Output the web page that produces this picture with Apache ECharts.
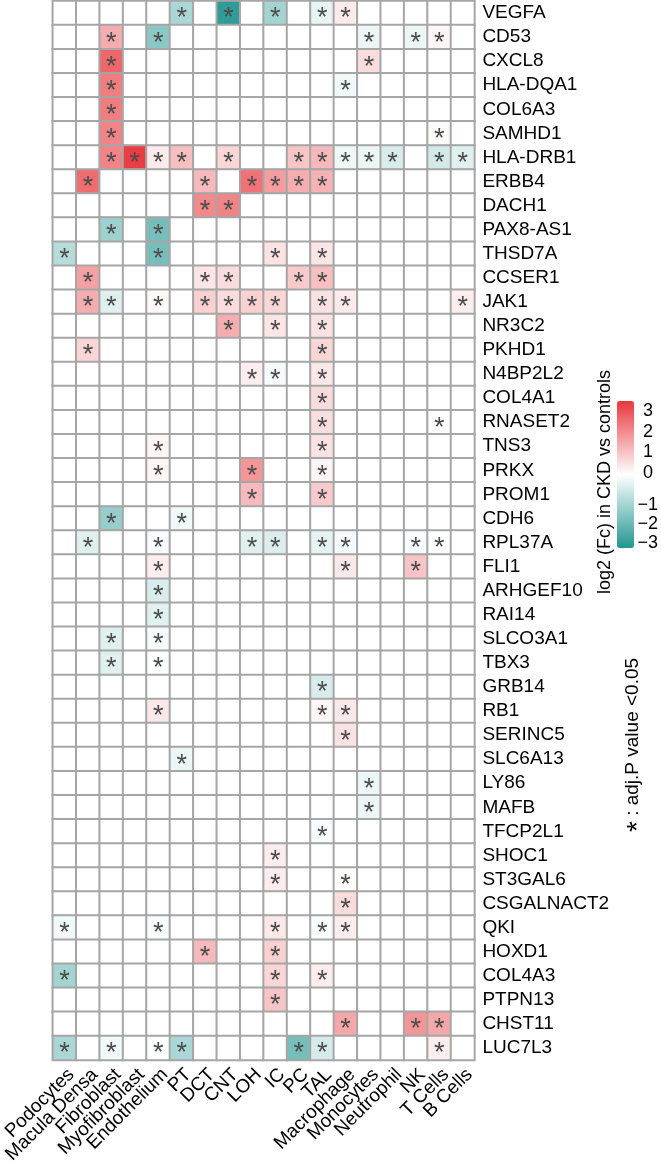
<!DOCTYPE html>
<html>
<head>
<meta charset="utf-8">
<script src="https://cdn.jsdelivr.net/npm/echarts@6/dist/echarts.min.js"></script>
<style>
  html, body { margin: 0; padding: 0; background: #fff; }
  #chart { width: 661px; height: 1170px; }
</style>
</head>
<body>
<div id="chart"></div>
<script>
// ---- data ----
const cellTypes = ['Podocytes', 'Macula Densa', 'Fibroblast', 'Myofibroblast', 'Endothelium', 'PT', 'DCT', 'CNT', 'LOH', 'IC', 'PC', 'TAL', 'Macrophage', 'Monocytes', 'Neutrophil', 'NK', 'T Cells', 'B Cells'];
const genes = ['VEGFA', 'CD53', 'CXCL8', 'HLA-DQA1', 'COL6A3', 'SAMHD1', 'HLA-DRB1', 'ERBB4', 'DACH1', 'PAX8-AS1', 'THSD7A', 'CCSER1', 'JAK1', 'NR3C2', 'PKHD1', 'N4BP2L2', 'COL4A1', 'RNASET2', 'TNS3', 'PRKX', 'PROM1', 'CDH6', 'RPL37A', 'FLI1', 'ARHGEF10', 'RAI14', 'SLCO3A1', 'TBX3', 'GRB14', 'RB1', 'SERINC5', 'SLC6A13', 'LY86', 'MAFB', 'TFCP2L1', 'SHOC1', 'ST3GAL6', 'CSGALNACT2', 'QKI', 'HOXD1', 'COL4A3', 'PTPN13', 'CHST11', 'LUC7L3'];
const _ = null; // not significant
// log2 fold change per gene (rows) x cell type (columns); null = not significant
const log2fc = [
  [_, _, _, _, _, -1.3, _, -3.2, _, -1.4, _, -0.35, 0.35, _, _, _, _, _],      // VEGFA
  [_, _, 1.4, _, -1.8, _, _, _, _, _, _, _, _, -0.3, _, -0.3, 0.15, _],        // CD53
  [_, _, 2.6, _, _, _, _, _, _, _, _, _, _, 0.6, _, _, _, _],                  // CXCL8
  [_, _, 2.2, _, _, _, _, _, _, _, _, _, -0.2, _, _, _, _, _],                 // HLA-DQA1
  [_, _, 2.2, _, _, _, _, _, _, _, _, _, _, _, _, _, _, _],                    // COL6A3
  [_, _, 2.1, _, _, _, _, _, _, _, _, _, _, _, _, _, 0.08, _],                 // SAMHD1
  [_, _, 2.1, 3.3, 0.35, 1.1, _, 0.7, _, _, 1.0, 1.2, -0.25, -0.3, -0.6, _, -0.7, -0.5], // HLA-DRB1
  [_, 2.5, _, _, _, _, 1.2, _, 2.4, 1.7, 1.4, 1.3, _, _, _, _, _, _],          // ERBB4
  [_, _, _, _, _, _, 2.0, 2.1, _, _, _, _, _, _, _, _, _, _],                  // DACH1
  [_, _, -1.5, _, -2.1, _, _, _, _, _, _, _, _, _, _, _, _, _],                // PAX8-AS1
  [-1.1, _, _, _, -2.1, _, _, _, _, 0.5, _, 0.45, _, _, _, _, _, _],           // THSD7A
  [_, 1.6, _, _, _, _, 0.45, 0.6, _, _, 0.9, 1.1, _, _, _, _, _, _],           // CCSER1
  [_, 1.4, -0.5, _, 0.1, _, 0.8, 0.6, 0.8, 0.7, _, 0.5, 0.35, _, _, _, _, 0.3], // JAK1
  [_, _, _, _, _, _, _, 1.4, _, 0.45, _, 0.5, _, _, _, _, _, _],               // NR3C2
  [_, 0.7, _, _, _, _, _, _, _, _, _, 0.7, _, _, _, _, _, _],                  // PKHD1
  [_, _, _, _, _, _, _, _, 0.3, -0.15, _, 0.4, _, _, _, _, _, _],              // N4BP2L2
  [_, _, _, _, _, _, _, _, _, _, _, 0.6, _, _, _, _, _, _],                    // COL4A1
  [_, _, _, _, _, _, _, _, _, _, _, 0.55, _, _, _, _, 0.03, _],                // RNASET2
  [_, _, _, _, 0.15, _, _, _, _, _, _, 0.5, _, _, _, _, _, _],                 // TNS3
  [_, _, _, _, 0.15, _, _, _, 1.8, _, _, 0.15, _, _, _, _, _, _],              // PRKX
  [_, _, _, _, _, _, _, _, 1.2, _, _, 0.9, _, _, _, _, _, _],                  // PROM1
  [_, _, -1.6, _, _, -0.2, _, _, _, _, _, _, _, _, _, _, _, _],                // CDH6
  [_, -0.5, _, _, -0.1, _, _, _, -0.5, -0.55, _, -0.4, -0.15, _, _, -0.1, -0.03, _], // RPL37A
  [_, _, _, _, 0.3, _, _, _, _, _, _, _, 0.4, _, _, 1.0, _, _],                // FLI1
  [_, _, _, _, -0.6, _, _, _, _, _, _, _, _, _, _, _, _, _],                   // ARHGEF10
  [_, _, _, _, -0.5, _, _, _, _, _, _, _, _, _, _, _, _, _],                   // RAI14
  [_, _, -0.5, _, -0.15, _, _, _, _, _, _, _, _, _, _, _, _, _],               // SLCO3A1
  [_, _, -0.5, _, -0.03, _, _, _, _, _, _, _, _, _, _, _, _, _],               // TBX3
  [_, _, _, _, _, _, _, _, _, _, _, -0.6, _, _, _, _, _, _],                   // GRB14
  [_, _, _, _, 0.4, _, _, _, _, _, _, 0.15, 0.4, _, _, _, _, _],               // RB1
  [_, _, _, _, _, _, _, _, _, _, _, _, 0.5, _, _, _, _, _],                    // SERINC5
  [_, _, _, _, _, -0.3, _, _, _, _, _, _, _, _, _, _, _, _],                   // SLC6A13
  [_, _, _, _, _, _, _, _, _, _, _, _, _, -0.3, _, _, _, _],                   // LY86
  [_, _, _, _, _, _, _, _, _, _, _, _, _, -0.3, _, _, _, _],                   // MAFB
  [_, _, _, _, _, _, _, _, _, _, _, -0.1, _, _, _, _, _, _],                   // TFCP2L1
  [_, _, _, _, _, _, _, _, _, 0.3, _, _, _, _, _, _, _, _],                    // SHOC1
  [_, _, _, _, _, _, _, _, _, 0.3, _, _, 0.05, _, _, _, _, _],                 // ST3GAL6
  [_, _, _, _, _, _, _, _, _, _, _, _, 0.6, _, _, _, _, _],                    // CSGALNACT2
  [-0.2, _, _, _, -0.1, _, _, _, _, 0.4, _, -0.1, 0.3, _, _, _, _, _],         // QKI
  [_, _, _, _, _, _, 1.2, _, _, 0.8, _, _, _, _, _, _, _, _],                  // HOXD1
  [-1.4, _, _, _, _, _, _, _, _, 0.7, _, 0.3, _, _, _, _, _, _],               // COL4A3
  [_, _, _, _, _, _, _, _, _, 1.0, _, _, _, _, _, _, _, _],                    // PTPN13
  [_, _, _, _, _, _, _, _, _, _, _, _, 1.5, _, _, 1.8, 1.5, _],                // CHST11
  [-1.3, _, -0.2, _, -0.03, -1.3, _, _, _, _, -2.1, -0.65, _, _, _, _, 0.3, _] // LUC7L3
];
const legendTicksPos = [0, 1, 2, 3];
const legendTicksNeg = [-1, -2, -3];
const colorRange = [-3.4, 3.4];
const legendTitle = 'log2 (Fc) in CKD vs controls';
const sigNote = ': adj.P value <0.05';

// ---- build heatmap data ----
const heatData = [];
log2fc.forEach((row, gi) => {
  row.forEach((v, ci) => {
    heatData.push([ci, gi, v === null ? 0 : v, v === null ? 0 : 1]);
  });
});

const FONT = "'Liberation Sans', Arial, sans-serif";
const chart = echarts.init(document.getElementById('chart'), null, { renderer: 'canvas' });

const legendLabel = {
  margin: 9, fontSize: 18, color: '#000', fontFamily: FONT,
  formatter: v => (v < 0 ? '\u2212' + Math.abs(v) : String(v))
};
const hidden = { axisLine: { show: false }, axisTick: { show: false }, splitLine: { show: false } };

chart.setOption({
  animation: false,
  backgroundColor: '#ffffff',
  grid: [
    { left: 41.3, top: 1, width: 433.1, height: 1059 },
    { left: 617, top: 401, width: 17, height: 72 },
    { left: 617, top: 486, width: 17, height: 62 }
  ],
  xAxis: [
    Object.assign({
      type: 'category', data: cellTypes, gridIndex: 0, position: 'bottom',
      axisLabel: { rotate: 45, align: 'right', verticalAlign: 'top', margin: 5, fontSize: 19, color: '#000', fontFamily: FONT, interval: 0 }
    }, hidden),
    { type: 'value', gridIndex: 1, show: false, min: 0, max: 1 },
    { type: 'value', gridIndex: 2, show: false, min: 0, max: 1 }
  ],
  yAxis: [
    Object.assign({
      type: 'category', data: genes, inverse: true, gridIndex: 0, position: 'right',
      axisLabel: { margin: 8, fontSize: 19, color: '#000', fontFamily: FONT, interval: 0, padding: [7, 0, 0, 0] }
    }, hidden),
    Object.assign({
      type: 'value', gridIndex: 1, position: 'right', min: 0, max: 3.5,
      axisLabel: Object.assign({ customValues: legendTicksPos }, legendLabel)
    }, hidden),
    Object.assign({
      type: 'value', gridIndex: 2, position: 'right', min: -3.26, max: 0,
      axisLabel: Object.assign({ customValues: legendTicksNeg }, legendLabel)
    }, hidden)
  ],
  visualMap: {
    type: 'continuous', seriesIndex: 0, dimension: 2,
    min: colorRange[0], max: colorRange[1],
    calculable: false, hoverLink: false, orient: 'vertical',
    left: 617, top: 401, itemWidth: 17, itemHeight: 147, padding: 0,
    text: null,
    inRange: { color: ['#229691', '#ffffff', '#e8383d'] }
  },
  series: [
    {
      type: 'heatmap', xAxisIndex: 0, yAxisIndex: 0,
      data: heatData,
      itemStyle: { borderColor: '#a6a6a6', borderWidth: 2 },
      label: {
        show: true, formatter: p => (p.data[3] ? '*' : ''),
        fontSize: 27, color: '#4d4d4d', fontFamily: FONT, offset: [0, 6]
      },
      emphasis: { disabled: true }
    },
    { type: 'scatter', xAxisIndex: 1, yAxisIndex: 1, data: [], silent: true },
    { type: 'scatter', xAxisIndex: 2, yAxisIndex: 2, data: [], silent: true }
  ],
  graphic: [
    {
      type: 'text', x: 605, y: 482, rotation: Math.PI / 2,
      style: { text: legendTitle, fontSize: 18, fontFamily: FONT, fill: '#000', textAlign: 'center', textVerticalAlign: 'middle' }
    },
    {
      type: 'text', x: 633, y: 745, rotation: Math.PI / 2,
      style: {
        text: '{s|*} ' + sigNote, fontSize: 19, fontFamily: FONT, fill: '#000', textAlign: 'center', textVerticalAlign: 'middle',
        rich: { s: { fontSize: 28, fontFamily: FONT, fill: '#000', padding: [10, 0, 0, 0] } }
      }
    }
  ]
});
</script>
</body>
</html>
